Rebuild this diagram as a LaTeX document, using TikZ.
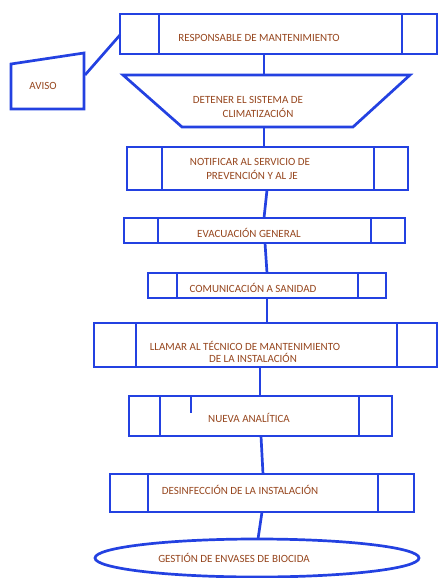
\documentclass[tikz,border=0pt]{standalone}
\usepackage{fontspec}
\setmainfont{Carlito}
\definecolor{lineblue}{RGB}{35,65,225}
\definecolor{txtbrown}{RGB}{150,70,30}
\tikzset{
  ln/.style={draw=lineblue, line width=2.7pt},
  lbl/.style={text=txtbrown, font=\fontsize{11}{13}\selectfont, inner sep=0pt, align=center},
  conn/.style={draw=lineblue, line width=2.7pt}
}
\begin{document}
\begin{tikzpicture}[x=1pt,y=-1pt]
\useasboundingbox (0,0) rectangle (438,578);
% boxes with inner bars
\newcommand{\procbox}[7]{%
  \draw[ln] (#1,#2) rectangle (#3,#4);
  \draw[ln] (#5,#2) -- (#5,#4);
  \draw[ln] (#6,#2) -- (#6,#4);
  \coordinate (#7-n) at ({(#1+#3)/2},#2);
  \coordinate (#7-s) at ({(#1+#3)/2},#4);
}
% RESPONSABLE
\procbox{120}{14}{437}{54}{159}{402}{resp}
\node[lbl] (resptxt) at (259,38) {RESPONSABLE DE MANTENIMIENTO};
% AVISO
\draw[ln] (11,64) -- (84,53) -- (84,109) -- (11,109) -- cycle;
\node[lbl] (aviso) at (43,86) {AVISO};
\coordinate (avisoR) at (85,75);
\coordinate (respL) at (120,35);
\draw[conn] (avisoR) -- (respL);
% Trapezoid
\draw[ln] (123,75) -- (410,75) -- (353,127) -- (182,127) -- cycle;
\node[lbl] (det1) at (248,100) {DETENER EL SISTEMA DE};
\node[lbl] (det2) at (258,113) {CLIMATIZACIÓN};
\coordinate (trapN) at (264,75);
\coordinate (trapS) at (264,127);
\coordinate (c1) at (264,54);
\draw[conn] (c1) -- (trapN);
% NOTIFICAR
\procbox{127}{147}{408}{190}{162}{374}{notif}
\node[lbl] (not1) at (250,162) {NOTIFICAR AL SERVICIO DE};
\node[lbl] (not2) at (252,175) {PREVENCIÓN Y AL JE};
\coordinate (c2) at (264,147);
\draw[conn] (trapS) -- (c2);
% EVACUACION
\procbox{124}{218}{405}{243}{158}{371}{evac}
\node[lbl] (evtxt) at (249,233) {EVACUACIÓN GENERAL};
\coordinate (c3a) at (267,190);
\coordinate (c3b) at (264,218);
\draw[conn] (c3a) -- (c3b);
% COMUNICACION
\procbox{148}{273}{386}{298}{177}{358}{com}
\node[lbl] (comtxt) at (253,288) {COMUNICACIÓN A SANIDAD};
\coordinate (c4a) at (265,243);
\coordinate (c4b) at (267,273);
\draw[conn] (c4a) -- (c4b);
% LLAMAR
\procbox{94}{323}{437}{367}{136}{397}{llam}
\node[lbl] (ll1) at (245,346) {LLAMAR AL TÉCNICO DE MANTENIMIENTO};
\node[lbl] (ll2) at (253,358) {DE LA INSTALACIÓN};
\coordinate (c5a) at (267,298);
\coordinate (c5b) at (267,323);
\draw[conn] (c5a) -- (c5b);
% NUEVA
\procbox{129}{396}{392}{436}{160}{359}{nuev}
\draw[ln] (191,396) -- (191,413);
\node[lbl] (nutxt) at (249,418) {NUEVA ANALÍTICA};
\coordinate (c6a) at (260,367);
\coordinate (c6b) at (260,396);
\draw[conn] (c6a) -- (c6b);
% DESINFECCION
\procbox{110}{474}{414}{512}{148}{378}{des}
\node[lbl] (destxt) at (240,490) {DESINFECCIÓN DE LA INSTALACIÓN};
\coordinate (c7a) at (261,436);
\coordinate (c7b) at (263,474);
\draw[conn] (c7a) -- (c7b);
% Ellipse
\draw[ln] (257,558) ellipse [x radius=162, y radius=19];
\node[lbl] (gest) at (234,558) {GESTIÓN DE ENVASES DE BIOCIDA};
\coordinate (c8a) at (262,512);
\coordinate (c8b) at (258,539);
\draw[conn] (c8a) -- (c8b);
\end{tikzpicture}
\end{document}
